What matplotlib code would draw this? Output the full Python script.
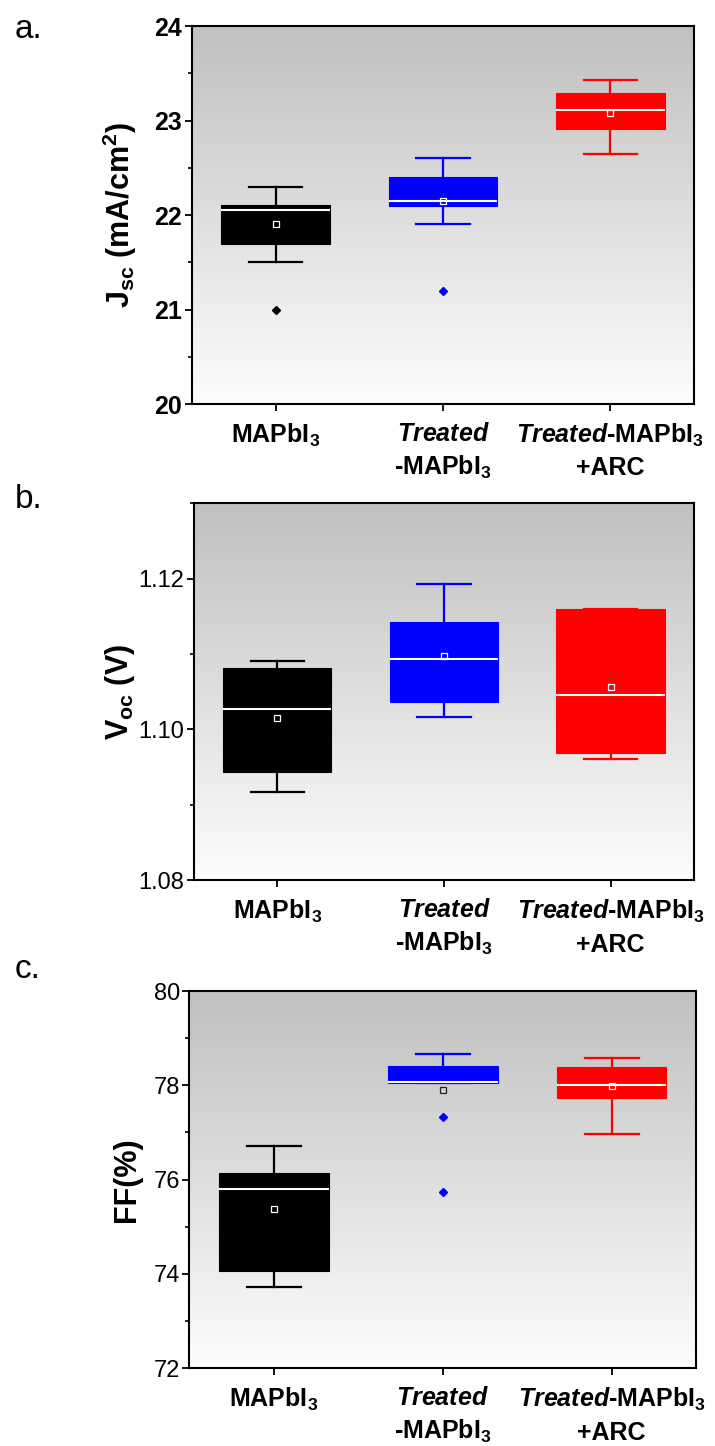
import numpy as np
import matplotlib
matplotlib.use("Agg")
import matplotlib.pyplot as plt
from matplotlib.ticker import MultipleLocator
from matplotlib.colors import LinearSegmentedColormap

plt.rcParams['font.family'] = ['Liberation Sans', 'DejaVu Sans']
plt.rcParams['mathtext.fontset'] = 'custom'
plt.rcParams['mathtext.rm'] = 'Liberation Sans'
plt.rcParams['mathtext.bf'] = 'Liberation Sans:bold'
plt.rcParams['mathtext.it'] = 'Liberation Sans:italic'
plt.rcParams['mathtext.bfit'] = 'Liberation Sans:italic:bold'

# ---------------- data ----------------
categories = ["MAPbI3", "Treated-MAPbI3", "Treated-MAPbI3+ARC"]
tick_labels = [r"MAPbI$_\mathbf{3}$",
               r"$\mathbfit{Treated}$" + "\n" + r"-MAPbI$_\mathbf{3}$",
               r"$\mathbfit{Treated}$-MAPbI$_\mathbf{3}$" + "\n" + "+ARC"]
colors = ["#000000", "#0000ff", "#ff0000"]

jsc_whislo = [21.50, 21.90, 22.65]
jsc_q1 = [21.69, 22.10, 22.91]
jsc_med = [22.05, 22.15, 23.11]
jsc_q3 = [22.11, 22.40, 23.29]
jsc_whishi = [22.30, 22.60, 23.43]
jsc_mean = [21.91, 22.15, 23.08]
jsc_fliers = [[21.00], [21.20], []]

voc_whislo = [1.0917, 1.1017, 1.0960]
voc_q1 = [1.0943, 1.1036, 1.0969]
voc_med = [1.1027, 1.1094, 1.1045]
voc_q3 = [1.1082, 1.1143, 1.1160]
voc_whishi = [1.1091, 1.1193, 1.1160]
voc_mean = [1.1015, 1.1097, 1.1056]
voc_fliers = [[], [], []]

ff_whislo = [73.73, 78.04, 76.97]
ff_q1 = [74.06, 78.04, 77.74]
ff_med = [75.80, 78.08, 78.00]
ff_q3 = [76.14, 78.41, 78.38]
ff_whishi = [76.72, 78.67, 78.57]
ff_mean = [75.38, 77.91, 77.98]
ff_fliers = [[], [77.32, 75.74], []]

# ---------------- figure ----------------
fig = plt.figure(figsize=(7.15, 14.46), dpi=100)

panels = [
    dict(rect=[0.2685, 0.7206, 0.7021, 0.2614], letter="a.", ly=1 - 38 / 1446,
         ylabel=r"J$_\mathbf{sc}$ (mA/cm$^\mathbf{2}$)", labx=-0.105,
         ylim=(20, 24), major=1, minor=0.5, fmt="{:.0f}", tickbold=True,
         ticks=[20, 21, 22, 23, 24],
         data=(jsc_whislo, jsc_q1, jsc_med, jsc_q3, jsc_whishi, jsc_mean, jsc_fliers)),
    dict(rect=[0.2713, 0.3914, 0.6993, 0.2605], letter="b.", ly=1 - 508 / 1446,
         ylabel=r"V$_\mathbf{oc}$ (V)", labx=-0.114,
         ylim=(1.08, 1.13), major=0.02, minor=0.01, fmt="{:.2f}", tickbold=False,
         ticks=[1.08, 1.10, 1.12],
         data=(voc_whislo, voc_q1, voc_med, voc_q3, voc_whishi, voc_mean, voc_fliers)),
    dict(rect=[0.2650, 0.0539, 0.7084, 0.2607], letter="c.", ly=1 - 978 / 1446,
         ylabel="FF(%)", labx=-0.094,
         ylim=(72, 80), major=2, minor=1, fmt="{:.0f}", tickbold=False,
         ticks=[72, 74, 76, 78, 80],
         data=(ff_whislo, ff_q1, ff_med, ff_q3, ff_whishi, ff_mean, ff_fliers)),
]

grad_cmap = LinearSegmentedColormap.from_list("g", ["#fdfdfd", "#c0c0c0"])
positions = [1, 2, 3]

for p in panels:
    ax = fig.add_axes(p["rect"])
    ax.imshow(np.linspace(0, 1, 256).reshape(-1, 1), extent=[0, 1, 0, 1],
              transform=ax.transAxes, cmap=grad_cmap, aspect="auto",
              origin="lower", zorder=0, interpolation="bilinear")
    whislo, q1, med, q3, whishi, mean, fliers = p["data"]
    stats = []
    for i in range(3):
        stats.append(dict(label=categories[i], whislo=whislo[i], q1=q1[i], med=med[i],
                          q3=q3[i], whishi=whishi[i], fliers=fliers[i]))
    bp = ax.bxp(stats, positions=positions, widths=0.65, capwidths=0.32,
                patch_artist=True, showfliers=True, showmeans=False,
                medianprops=dict(color="white", linewidth=1.5),
                whiskerprops=dict(linewidth=1.6), capprops=dict(linewidth=1.6),
                boxprops=dict(linewidth=0.8))
    for i, c in enumerate(colors):
        bp["boxes"][i].set_facecolor(c)
        bp["boxes"][i].set_edgecolor(c)
        bp["boxes"][i].set_zorder(3)
        for ln in bp["whiskers"][2 * i:2 * i + 2] + bp["caps"][2 * i:2 * i + 2]:
            ln.set_color(c)
            ln.set_zorder(2)
        bp["medians"][i].set_zorder(4)
        fl = bp["fliers"][i]
        fl.set_marker("D")
        fl.set_markersize(3.8)
        fl.set_markerfacecolor(c)
        fl.set_markeredgecolor(c)
        inside = q1[i] <= mean[i] <= q3[i]
        ax.plot(positions[i], mean[i], marker="s", markersize=4.5,
                markerfacecolor="none", markeredgewidth=0.9,
                markeredgecolor="white" if inside else "#222222", zorder=5)

    ax.set_xlim(0.5, 3.5)
    ax.set_ylim(*p["ylim"])
    ax.yaxis.set_minor_locator(MultipleLocator(p["minor"]))
    ax.set_yticks(p["ticks"])
    ax.set_yticklabels([p["fmt"].format(v) for v in p["ticks"]],
                       fontsize=18 if p["tickbold"] else 17,
                       fontweight="bold" if p["tickbold"] else "normal")
    ax.set_xticks(positions)
    ax.set_xticklabels(tick_labels, fontsize=18, fontweight="bold",
                       linespacing=1.38, va="top")
    ax.tick_params(axis="both", which="major", direction="out", length=5, width=1.3, pad=8)
    ax.tick_params(axis="y", which="major", pad=2)
    ax.tick_params(axis="y", which="minor", direction="out", length=3, width=1.2)
    ax.tick_params(axis="x", which="minor", bottom=False)
    for s in ax.spines.values():
        s.set_linewidth(1.5)
    ax.set_ylabel(p["ylabel"], fontsize=22, fontweight="bold")
    ax.yaxis.set_label_coords(p["labx"], 0.5)
    fig.text(15 / 715, p["ly"], p["letter"], fontsize=24, va="baseline", ha="left")

fig.savefig("out.png", dpi=100)
